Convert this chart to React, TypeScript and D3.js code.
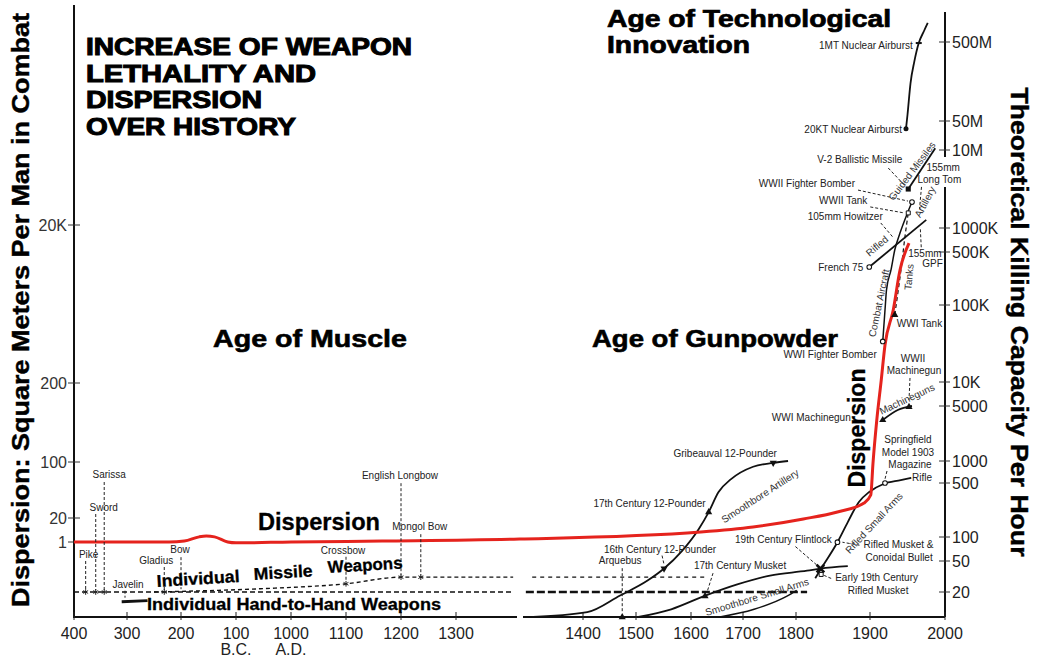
import React, { useRef, useEffect } from 'react'
import * as d3 from 'd3'

// x axis: years, negative = B.C.
const xTickYears = [-400, -300, -200, -100, 1000, 1100, 1200, 1300, 1400, 1500, 1600, 1700, 1800, 1900, 2000]
const xTickLabels = ['400', '300', '200', '100', '1000', '1100', '1200', '1300', '1400', '1500', '1600', '1700', '1800', '1900', '2000']
const eraLabels = [{ year: -100, text: 'B.C.' }, { year: 1000, text: 'A.D.' }]

// left axis: dispersion, square meters per man
const leftTicks = [1, 20, 100, 200, 20000]
const leftTickLabels = ['1', '20', '100', '200', '20K']
// right axis: theoretical killing capacity per hour
const rightTicks = [20, 50, 100, 500, 1000, 5000, 10000, 100000, 500000, 1000000, 10000000, 50000000, 500000000]
const rightTickLabels = ['20', '50', '100', '500', '1000', '5000', '10K', '100K', '500K', '1000K', '10M', '50M', '500M']

// dispersion curve [year, sq m]
const dispersion = [
    [-400, 1], [-222, 1], [-194, 1.13], [-167, 1.9], [-154, 2.1], [-139, 1.9], [-115, 1], [-100, 0.9],
    [1000, 1], [1166, 1.13], [1350, 1.45], [1619, 3.5], [1719, 6.5], [1810, 17.7], [1856, 23.8],
    [1892, 30.8], [1901, 38.7], [1904, 97], [1909, 144], [1915, 218], [1920, 605], [1931, 1680],
    [1940, 5380], [1952, 11800],
]

// weapon families [year, killing capacity]
const handToHand = [[-400, 20], [1345, 20]]
const handToHandLate = [[1355, 20], [1815, 20]]
const missileWeapons = [[-250, 20], [380, 22], [1100, 25.5], [1200, 31], [1236, 31], [1345, 31]]
const missileWeaponsLate = [[1360, 31], [1630, 31]]
const javelinMark = [[-310, 15], [-262, 15.5]]
const smoothboreArtillery = [
    [1357, 9.5], [1408, 11], [1470, 18], [1521, 28], [1551, 40], [1583, 66], [1615, 127],
    [1634, 210], [1653, 382], [1677, 564], [1719, 834], [1757, 942], [1785, 1000],
]
const smoothboreSmallArms = [
    [1502, 9.5], [1564, 12], [1625, 17.7], [1689, 25], [1751, 32.5], [1815, 37.5], [1833, 40], [1870, 43],
]
const smoothboreSmallArmsLate = [[1653, 9.5], [1721, 12], [1783, 17.7], [1801, 21]]
const rifledSmallArms = [
    [1826, 30], [1834, 40], [1856, 86], [1870, 156], [1885, 284], [1899, 383], [1918, 485], [1941, 547], [1955, 590],
]
const machineguns = [[1917, 3320], [1937, 4450], [1956, 5000]]
const combatAircraft = [
    [1917, 33600], [1920, 86000], [1922, 158000], [1928, 290000], [1933, 530000], [1940, 865000],
    [1950, 1560000], [1956, 2150000],
]
const tanks = [[1933, 74500], [1937, 140000], [1942, 330000], [1946, 700000], [1951, 1560000]]
const rifledArtillery = [[1899, 317000], [1975, 1270000]]
const guidedMissiles = [[1951, 3160000], [1987, 11000000]]
const nuclear = [
    [1948, 32600000], [1950, 60000000], [1954, 150000000], [1959, 280000000], [1965, 485000000],
    [1972, 689000000], [1977, 871000000],
]

// individual weapons [year, killing capacity]
const weapons = [
    { name: 'Pike', year: -378, value: 20, mark: 'star' },
    { name: 'Sword', year: -359, value: 20, mark: 'star' },
    { name: 'Sarissa', year: -343, value: 20, mark: 'star' },
    { name: 'Gladius', year: -231, value: 20, mark: 'star' },
    { name: 'Bow', year: -200, value: 20.5, mark: 'none' },
    { name: 'Javelin', year: -300, value: 15, mark: 'none' },
    { name: 'Crossbow', year: 1100, value: 25.5, mark: 'star' },
    { name: 'English Longbow', year: 1200, value: 31, mark: 'star' },
    { name: 'Mongol Bow', year: 1236, value: 31, mark: 'star' },
    { name: 'Arquebus', year: 1474, value: 9.5, mark: 'tri' },
    { name: '16th Century 12-Pounder', year: 1551, value: 40, mark: 'triDown' },
    { name: '17th Century 12-Pounder', year: 1634, value: 210, mark: 'tri' },
    { name: 'Gribeauval 12-Pounder', year: 1757, value: 942, mark: 'triDown' },
    { name: '17th Century Musket', year: 1627, value: 17.7, mark: 'tri' },
    { name: '19th Century Flintlock', year: 1833, value: 40, mark: 'times' },
    { name: 'Early 19th Century Rifled Musket', year: 1834, value: 33.6, mark: 'openSquare' },
    { name: 'Rifled Musket & Conoidal Bullet', year: 1856, value: 86, mark: 'circle' },
    { name: 'Springfield Model 1903 Magazine Rifle', year: 1920, value: 500, mark: 'circle' },
    { name: 'WWI Machinegun', year: 1917, value: 3320, mark: 'tri' },
    { name: 'WWII Machinegun', year: 1952, value: 4860, mark: 'tri' },
    { name: 'WWI Fighter Bomber', year: 1917, value: 33600, mark: 'circle' },
    { name: 'WWI Tank', year: 1933, value: 74500, mark: 'tri' },
    { name: 'French 75', year: 1899, value: 317000, mark: 'circle' },
    { name: '105mm Howitzer', year: 1933, value: 708000, mark: 'none' },
    { name: '155mm GPF', year: 1967, value: 1150000, mark: 'none' },
    { name: '155mm Long Tom', year: 1966, value: 1560000, mark: 'none' },
    { name: 'WWII Tank', year: 1951, value: 1560000, mark: 'openSquare' },
    { name: 'WWII Fighter Bomber', year: 1956, value: 2150000, mark: 'circle' },
    { name: 'V-2 Ballistic Missile', year: 1951, value: 3160000, mark: 'square' },
    { name: '20KT Nuclear Airburst', year: 1948, value: 32600000, mark: 'dot' },
    { name: '1MT Nuclear Airburst', year: 1965, value: 485000000, mark: 'tick' },
]

// label placement relative to each marker (pixels)
const labelLayout: Record<string, any> = {
    'Pike': { lines: [['Pike', 3, -34, 'middle']], leader: [0, -31, 0, -2] },
    'Sword': { lines: [['Sword', 8, -81, 'middle']], leader: [0, -78, 0, -2] },
    'Sarissa': { lines: [['Sarissa', 5, -114, 'middle']], leader: [0, -110, 0, -2] },
    'Gladius': { lines: [['Gladius', -8, -28, 'middle']], leader: [0, -25, 0, -2] },
    'Bow': { lines: [['Bow', -1, -38, 'middle']], leader: [0, -34, 0, -2] },
    'Javelin': { lines: [['Javelin', 1, -14, 'middle']], leader: [-2, -11, -2, -4] },
    'Crossbow': { lines: [['Crossbow', -3, -30, 'middle']], leader: [0, -27, 0, -2] },
    'English Longbow': { lines: [['English Longbow', -1, -98, 'middle']], leader: [0, -94, 0, -2] },
    'Mongol Bow': { lines: [['Mongol Bow', -1, -47, 'middle']], leader: [0, -43, 0, -2] },
    'Arquebus': { lines: [['Arquebus', -2, -53, 'middle']], leader: [0, -49, 0, -4] },
    '16th Century 12-Pounder': { lines: [['16th Century 12-Pounder', -4, -16, 'middle']], leader: [-2, -13, 0, -4] },
    '17th Century 12-Pounder': { lines: [['17th Century 12-Pounder', -3, -5, 'end']] },
    'Gribeauval 12-Pounder': { lines: [['Gribeauval 12-Pounder', -48, -6, 'middle']] },
    '17th Century Musket': { lines: [['17th Century Musket', 35, -27, 'middle']], leader: [8, -23, 2, -4] },
    '19th Century Flintlock': { lines: [['19th Century Flintlock', -37, -26, 'middle']], leader: [-25, -22, -3, -3] },
    'Early 19th Century Rifled Musket': {
        lines: [['Early 19th Century', 14, 7, 'start'], ['Rifled Musket', 57, 20, 'middle']],
        leader: [10, 4, 3, 1],
    },
    'Rifled Musket & Conoidal Bullet': {
        lines: [['Rifled Musket &', 26, 6, 'start'], ['Conoidal Bullet', 28, 19, 'start']],
        leader: [22, 3, 5, 0],
    },
    'Springfield Model 1903 Magazine Rifle': {
        lines: [['Springfield', 23, -40, 'middle'], ['Model 1903', 23, -27, 'middle'],
            ['Magazine', 25, -15, 'middle'], ['Rifle', 47, -2, 'end']],
        leader: [2, -12, 0, -4],
    },
    'WWI Machinegun': { lines: [['WWI Machinegun', -32, 1, 'end']] },
    'WWII Machinegun': { lines: [['WWII', 4, -45, 'middle'], ['Machinegun', 5, -33, 'middle']], leader: [1, -29, 0, -7] },
    'WWI Fighter Bomber': { lines: [['WWI Fighter Bomber', -6, 17, 'end']] },
    'WWI Tank': { lines: [['WWI Tank', 2, 12, 'start']] },
    'French 75': { lines: [['French 75', -6, 4, 'end']] },
    '105mm Howitzer': { lines: [['105mm Howitzer', -12, -20, 'end']], leader: [-14, -17, -2, -3] },
    '155mm GPF': { lines: [['155mm', -12, 34, 'start'], ['GPF', 2, 44, 'start']], leader: [1, 24, 0, 4] },
    '155mm Long Tom': { lines: [['155mm', 7, -42, 'start'], ['Long Tom', -2, -30, 'start']], leader: [2, -26, 0, -4] },
    'WWII Tank': { lines: [['WWII Tank', -41, -9, 'end']], leader: [-38, -6, -4, 0] },
    'WWII Fighter Bomber': { lines: [['WWII Fighter Bomber', -57, -15, 'end']], leader: [-54, -12, -4, -1] },
    'V-2 Ballistic Missile': { lines: [['V-2 Ballistic Missile', -6, -26, 'end']], leader: [-20, -21, -3, -3] },
    '20KT Nuclear Airburst': { lines: [['20KT Nuclear Airburst', -4, 4, 'end']] },
    '1MT Nuclear Airburst': { lines: [['1MT Nuclear Airburst', -6, 6, 'end']] },
}

const seriesStyle: Record<string, { w: number; dash?: string }> = {
    handToHand: { w: 1.6, dash: '5,3' },
    handToHandLate: { w: 2.4, dash: '8,3' },
    missileWeapons: { w: 1.4, dash: '4,3' },
    missileWeaponsLate: { w: 1.4, dash: '4,4' },
    javelinMark: { w: 3 },
    smoothboreArtillery: { w: 1.8 },
    smoothboreSmallArms: { w: 1.8 },
    smoothboreSmallArmsLate: { w: 1.5 },
    rifledSmallArms: { w: 1.8 },
    machineguns: { w: 1.8 },
    combatAircraft: { w: 1.5 },
    tanks: { w: 1.2, dash: '4,3' },
    rifledArtillery: { w: 1.8 },
    guidedMissiles: { w: 1.8 },
    nuclear: { w: 1.8 },
}
const killingSeries: Record<string, number[][]> = {
    handToHand, handToHandLate, missileWeapons, missileWeaponsLate, javelinMark,
    smoothboreArtillery, smoothboreSmallArms, smoothboreSmallArmsLate, rifledSmallArms,
    machineguns, combatAircraft, tanks, rifledArtillery, guidedMissiles, nuclear,
}

// labels set along the curves
const curveLabels = [
    { text: 'Smoothbore Artillery', x: 760, y: 496, angle: -33 },
    { text: 'Smoothbore Small Arms', x: 757, y: 597, angle: -17 },
    { text: 'Rifled Small Arms', x: 874, y: 523, angle: -47 },
    { text: 'Machineguns', x: 907, y: 399, angle: -25 },
    { text: 'Combat Aircraft', x: 879, y: 303, angle: -78 },
    { text: 'Tanks', x: 909, y: 277, angle: -85 },
    { text: 'Rifled', x: 877, y: 246, angle: -40 },
    { text: 'Artillery', x: 925, y: 202, angle: -62 },
    { text: 'Guided Missiles', x: 912, y: 171, angle: -53 },
]

const titleLines = ['INCREASE OF WEAPON', 'LETHALITY AND', 'DISPERSION', 'OVER HISTORY']
const titleWidths = [326, 230, 176, 210]
const FONT = '"Liberation Sans", Arial, Helvetica, sans-serif'

const App = () => {
    const ref = useRef<SVGSVGElement>(null)

    useEffect(() => {
        const svg = d3.select(ref.current)
        svg.selectAll('*').remove()
        svg.attr('font-family', FONT)

        const x = d3.scaleLinear()
            .domain(xTickYears)
            .range([74, 127, 181, 236, 291, 346, 401, 456, 583, 636, 691, 743, 796, 870, 945])
        const yLeftLog = d3.scaleLinear()
            .domain(leftTicks.map(Math.log10))
            .range([542, 518, 462, 383, 225])
        const yRightLog = d3.scaleLinear()
            .domain(rightTicks.map(Math.log10))
            .range([592, 561, 537, 483, 461, 406, 382, 305, 252, 228, 150, 121, 42])
        const yL = (v: number) => yLeftLog(Math.log10(v))
        const yR = (v: number) => yRightLog(Math.log10(v))

        const text = (x0: number, y0: number, s: string, o: any = {}) => {
            const t = svg.append('text')
                .attr('x', x0).attr('y', y0).text(s)
                .attr('font-size', o.size ?? 10)
                .attr('font-weight', o.weight ?? 'normal')
                .attr('text-anchor', o.anchor ?? 'start')
                .attr('fill', o.fill ?? '#222')
            if (o.rotate) t.attr('transform', `rotate(${o.rotate},${x0},${y0})`)
            if (o.len) t.attr('textLength', o.len).attr('lengthAdjust', 'spacingAndGlyphs')
            if (o.dy) t.attr('dy', o.dy)
            if (o.stroke) t.attr('stroke', o.fill ?? '#000').attr('stroke-width', o.stroke)
            return t
        }

        const axisBottom = 617
        const xRight = x(2000)
        const xLeft = x(-400)

        // axes lines (with breaks)
        const axisLines = [
            [xLeft, 5, xLeft, axisBottom + 1],
            [xLeft, axisBottom, 517, axisBottom],
            [523, axisBottom, xRight, axisBottom],
            [xRight, 12, xRight, 157],
            [xRight, 187, xRight, axisBottom],
        ]
        axisLines.forEach(([x1, y1, x2, y2]) => {
            svg.append('line').attr('x1', x1).attr('y1', y1).attr('x2', x2).attr('y2', y2)
                .attr('stroke', '#111').attr('stroke-width', 2)
        })

        // bottom ticks
        xTickYears.forEach((yr, i) => {
            svg.append('line').attr('x1', x(yr)).attr('x2', x(yr))
                .attr('y1', axisBottom - 5).attr('y2', axisBottom + 3)
                .attr('stroke', '#222').attr('stroke-width', 1)
            text(x(yr), 639, xTickLabels[i], { size: 16, anchor: 'middle', fill: '#222' })
        })
        eraLabels.forEach(e => text(x(e.year), 655, e.text, { size: 16, anchor: 'middle', fill: '#222' }))

        // left ticks
        leftTicks.forEach((v, i) => {
            svg.append('line').attr('x1', xLeft - 6).attr('x2', xLeft + 6)
                .attr('y1', yL(v)).attr('y2', yL(v)).attr('stroke', '#333').attr('stroke-width', 1)
            text(xLeft - 7, yL(v) + 6, leftTickLabels[i], { size: 16, anchor: 'end', fill: '#333' })
        })

        // right ticks
        rightTicks.forEach((v, i) => {
            svg.append('line').attr('x1', xRight - 6).attr('x2', xRight + 5)
                .attr('y1', yR(v)).attr('y2', yR(v)).attr('stroke', '#333').attr('stroke-width', 1)
            text(xRight + 7, yR(v) + 6, rightTickLabels[i], { size: 16, fill: '#222' })
        })

        // axis titles
        text(29, 310, 'Dispersion: Square Meters Per Man in Combat',
            { size: 23, weight: 'bold', anchor: 'middle', rotate: -90, len: 594, fill: '#000', stroke: 0.4 })
        text(1011, 322, 'Theoretical Killing Capacity Per Hour',
            { size: 23, weight: 'bold', anchor: 'middle', rotate: 90, len: 469, fill: '#000', stroke: 0.4 })

        // title and eras
        titleLines.forEach((l, i) => text(86, 55 + i * 26.7, l,
            { size: 23, weight: 'bold', len: titleWidths[i], fill: '#000', stroke: 1 }))
        text(607, 27, 'Age of Technological', { size: 23, weight: 'bold', len: 284, fill: '#000', stroke: 0.7 })
        text(607, 53, 'Innovation', { size: 23, weight: 'bold', len: 143, fill: '#000', stroke: 0.7 })
        text(213, 347, 'Age of Muscle', { size: 24, weight: 'bold', len: 194, fill: '#000', stroke: 0.6 })
        text(592, 347, 'Age of Gunpowder', { size: 24, weight: 'bold', len: 246, fill: '#000', stroke: 0.6 })

        // weapon family lines
        const lineR = d3.line<number[]>().x(d => x(d[0])).y(d => yR(d[1])).curve(d3.curveMonotoneX)
        Object.entries(killingSeries).forEach(([key, data]) => {
            const st = seriesStyle[key]
            svg.append('path').attr('d', lineR(data)).attr('fill', 'none')
                .attr('stroke', '#111').attr('stroke-width', st.w)
                .attr('stroke-dasharray', st.dash ?? null)
        })

        // dispersion line
        const lineL = d3.line<number[]>().x(d => x(d[0])).y(d => yL(d[1])).curve(d3.curveMonotoneX)
        svg.append('path').attr('d', lineL(dispersion)).attr('fill', 'none')
            .attr('stroke', '#e5231d').attr('stroke-width', 3)

        // leaders, markers and labels for individual weapons
        const sym = d3.symbol()
        weapons.forEach(w => {
            const px = x(w.year)
            const py = yR(w.value)
            const lay = labelLayout[w.name]
            if (lay?.leader) {
                const [a, b, c, d] = lay.leader
                svg.append('line').attr('x1', px + a).attr('y1', py + b).attr('x2', px + c).attr('y2', py + d)
                    .attr('stroke', '#222').attr('stroke-width', 1).attr('stroke-dasharray', '3,2')
            }
            const g = svg.append('g').attr('transform', `translate(${px},${py})`)
            if (w.mark === 'star') {
                g.append('path').attr('d', sym.type(d3.symbolAsterisk).size(22)())
                    .attr('stroke', '#222').attr('stroke-width', 1).attr('fill', 'none')
            } else if (w.mark === 'tri' || w.mark === 'triDown') {
                g.append('path').attr('d', sym.type(d3.symbolTriangle).size(22)())
                    .attr('transform', w.mark === 'triDown' ? 'rotate(180)' : null).attr('fill', '#111')
            } else if (w.mark === 'circle') {
                g.append('circle').attr('r', 2.3).attr('fill', '#fff').attr('stroke', '#111').attr('stroke-width', 1.1)
            } else if (w.mark === 'dot') {
                g.append('circle').attr('r', 2.5).attr('fill', '#111')
            } else if (w.mark === 'square') {
                g.append('path').attr('d', sym.type(d3.symbolSquare).size(26)()).attr('fill', '#111')
            } else if (w.mark === 'openSquare') {
                g.append('path').attr('d', sym.type(d3.symbolSquare).size(16)())
                    .attr('fill', '#fff').attr('stroke', '#111').attr('stroke-width', 1)
            } else if (w.mark === 'times') {
                g.append('path').attr('d', sym.type(d3.symbolTimes).size(40)())
                    .attr('stroke', '#111').attr('stroke-width', 2.6)
            } else if (w.mark === 'tick') {
                g.append('line').attr('x1', -3).attr('x2', 3).attr('y1', 0).attr('y2', 0)
                    .attr('stroke', '#111').attr('stroke-width', 2)
            }
            lay?.lines.forEach(([s, dx, dy, anchor]: any) => {
                text(px + dx, py + dy, s, { size: 10, anchor, fill: '#222' })
            })
        })

        // labels along curves
        curveLabels.forEach(c => text(c.x, c.y, c.text,
            { size: 10, anchor: 'middle', rotate: c.angle, dy: '0.35em', fill: '#333' }))

        // big labels
        text(258, 530, 'Dispersion', { size: 23, weight: 'bold', len: 122, fill: '#000', stroke: 0.3 })
        text(865, 428, 'Dispersion', { size: 23, weight: 'bold', anchor: 'middle', rotate: -90, len: 119, fill: '#000', stroke: 0.3 })
        text(157, 587, 'Individual', { size: 17, weight: 'bold', len: 83, rotate: -3.5, fill: '#000', stroke: 0.3 })
        text(254, 580, 'Missile', { size: 17, weight: 'bold', len: 59, rotate: -3.5, fill: '#000', stroke: 0.3 })
        text(328, 573, 'Weapons', { size: 17, weight: 'bold', len: 75, rotate: -3.5, fill: '#000', stroke: 0.3 })
        text(147, 610, 'Individual  Hand-to-Hand  Weapons', { size: 17, weight: 'bold', len: 294, fill: '#000', stroke: 0.3 })
    }, [])

    return (
        <svg ref={ref} width={1043} height={660}
            style={{ position: 'absolute', left: 0, top: 0, background: '#fff' }} />
    )
}

export default App
